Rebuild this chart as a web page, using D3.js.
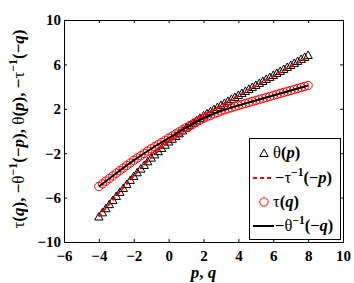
<!DOCTYPE html>
<html>
<head>
<meta charset="utf-8">
<script src="https://cdn.jsdelivr.net/npm/d3@7"></script>
<style>
  body { margin: 0; background: #fff; }
  text { font-family: "Liberation Serif", "Times New Roman", serif; }
</style>
</head>
<body>
<div id="chart"></div>
<script>
// grid of p (and q) values used for the markers
var pq = [-4, -3.8, -3.6, -3.4, -3.2, -3, -2.8, -2.6, -2.4, -2.2, -2, -1.8, -1.6, -1.4, -1.2, -1,
  -0.8, -0.6, -0.4, -0.2, 0, 0.2, 0.4, 0.6, 0.8, 1, 1.2, 1.4, 1.6, 1.8, 2, 2.2, 2.4, 2.6, 2.8, 3,
  3.2, 3.4, 3.6, 3.8, 4, 4.2, 4.4, 4.6, 4.8, 5, 5.2, 5.4, 5.6, 5.8, 6, 6.2, 6.4, 6.6, 6.8, 7,
  7.2, 7.4, 7.6, 7.8, 8];

// theta(p), triangles
var thetaVals = [-7.70, -7.33, -6.96, -6.59, -6.22, -5.85, -5.49, -5.13, -4.77, -4.41, -4.05,
  -3.72, -3.39, -3.06, -2.73, -2.40, -2.11, -1.82, -1.53, -1.24, -0.95, -0.70, -0.45, -0.20,
  0.05, 0.30, 0.52, 0.74, 0.96, 1.18, 1.40, 1.59, 1.78, 1.97, 2.16, 2.35, 2.53, 2.71, 2.89,
  3.07, 3.25, 3.43, 3.61, 3.79, 3.97, 4.15, 4.33, 4.51, 4.69, 4.87, 5.05, 5.23, 5.41, 5.59,
  5.77, 5.95, 6.13, 6.31, 6.49, 6.67, 6.85];

// tau(q), circles
var tauVals = [-5.00, -4.76, -4.52, -4.28, -4.04, -3.80, -3.57, -3.34, -3.11, -2.88, -2.65,
  -2.44, -2.23, -2.02, -1.81, -1.60, -1.41, -1.22, -1.03, -0.84, -0.65, -0.46, -0.27, -0.08,
  0.11, 0.30, 0.47, 0.64, 0.81, 0.98, 1.15, 1.28, 1.41, 1.54, 1.67, 1.80, 1.90, 2.00, 2.10,
  2.20, 2.30, 2.39, 2.48, 2.57, 2.66, 2.75, 2.84, 2.93, 3.02, 3.11, 3.20, 3.29, 3.38, 3.47,
  3.56, 3.65, 3.74, 3.83, 3.92, 4.01, 4.10];

// the two inverse curves
var lineX = [-4, -3, -2, -1, 0, 1, 2, 3, 4, 5, 6, 7, 8];
var dashVals = [-7.7, -5.85, -4.05, -2.4, -0.95, 0.3, 1.38, 2.3, 3.18, 4.05, 4.92, 5.78, 6.65];
var solidVals = [-5.0, -3.8, -2.65, -1.6, -0.65, 0.3, 1.15, 1.8, 2.3, 2.75, 3.2, 3.65, 4.1];

var xTicks = [-6, -4, -2, 0, 2, 4, 6, 8, 10];
var yTicks = [-10, -6, -2, 2, 6, 10];

var svgWidth = 354;
var svgHeight = 283;
var margin = { top: 20, right: 11, bottom: 41, left: 64 };
var width = svgWidth - margin.left - margin.right;
var height = svgHeight - margin.top - margin.bottom;

var svg = d3.select("#chart").append("svg")
  .attr("width", svgWidth)
  .attr("height", svgHeight);

var chartGroup = svg.append("g")
  .attr("transform", `translate(${margin.left}, ${margin.top})`);

var x = d3.scaleLinear().domain([-6, 10]).range([0, width]);
var y = d3.scaleLinear().domain([-10, 10]).range([height, 0]);

// appends tspans: g = greek (normal), b = bold, i = bold italic, s = superscript
function richText(sel, parts, size) {
  var raised = false;
  parts.forEach(function (p) {
    var t = sel.append("tspan").text(p[0]);
    if (p[1] === "g") t.attr("font-weight", "normal").attr("font-style", "normal");
    if (p[1] === "b") t.attr("font-weight", "bold").attr("font-style", "normal");
    if (p[1] === "i") t.attr("font-weight", "bold").attr("font-style", "italic");
    if (p[1] === "s") {
      t.attr("font-weight", "bold").attr("font-size", size * 0.7).attr("dy", -size * 0.42);
      raised = true;
    } else if (raised) {
      t.attr("dy", size * 0.42);
      raised = false;
    }
  });
}

// axes, ticks inside on all four sides
function styleAxis(g) {
  g.selectAll("text")
    .attr("font-size", 15)
    .attr("font-weight", "bold")
    .attr("font-family", "Liberation Serif, serif");
  g.select(".domain").attr("stroke", "#000");
}

var fmt = function (d) { return d < 0 ? "\u2212" + Math.abs(d) : d; };

chartGroup.append("g")
  .attr("transform", `translate(0, ${height})`)
  .call(d3.axisBottom(x).tickValues(xTicks).tickFormat(fmt).tickSize(-3).tickSizeOuter(0).tickPadding(8))
  .call(styleAxis);

chartGroup.append("g")
  .call(d3.axisLeft(y).tickValues(yTicks).tickFormat(fmt).tickSize(-3).tickSizeOuter(0).tickPadding(3))
  .call(styleAxis);

chartGroup.append("g")
  .call(d3.axisTop(x).tickValues(xTicks).tickFormat("").tickSize(-3).tickSizeOuter(0))
  .call(styleAxis);

chartGroup.append("g")
  .attr("transform", `translate(${width}, 0)`)
  .call(d3.axisRight(y).tickValues(yTicks).tickFormat("").tickSize(-3).tickSizeOuter(0))
  .call(styleAxis);

// triangle marker centred on its bounding box, like matlab '^'
var triPath = "M0,-4L4.2,3.5L-4.2,3.5Z";

var thetaData = pq.map(function (p, i) { return { x: p, y: thetaVals[i] }; });
var tauData = pq.map(function (q, i) { return { x: q, y: tauVals[i] }; });

chartGroup.append("g").selectAll("path")
  .data(thetaData)
  .enter()
  .append("path")
  .attr("d", triPath)
  .attr("transform", d => `translate(${x(d.x)}, ${y(d.y)})`)
  .attr("fill", "none")
  .attr("stroke", "#000")
  .attr("stroke-width", 1);

var line = d3.line()
  .x(d => x(d[0]))
  .y(d => y(d[1]))
  .curve(d3.curveCatmullRom);

chartGroup.append("path")
  .datum(lineX.map((v, i) => [v, dashVals[i]]))
  .attr("d", line)
  .attr("fill", "none")
  .attr("stroke", "#ff0000")
  .attr("stroke-width", 2)
  .attr("stroke-dasharray", "4,3");

chartGroup.append("g").selectAll("circle")
  .data(tauData)
  .enter()
  .append("circle")
  .attr("cx", d => x(d.x))
  .attr("cy", d => y(d.y))
  .attr("r", 4.2)
  .attr("fill", "none")
  .attr("stroke", "#ff0000")
  .attr("stroke-width", 1);

chartGroup.append("path")
  .datum(lineX.map((v, i) => [v, solidVals[i]]))
  .attr("d", line)
  .attr("fill", "none")
  .attr("stroke", "#000")
  .attr("stroke-width", 2);

// axis labels
var xLabel = svg.append("text")
  .attr("x", margin.left + width / 2)
  .attr("y", 278)
  .attr("text-anchor", "middle")
  .attr("font-size", 17);
richText(xLabel, [["p", "i"], [", ", "b"], ["q", "i"]], 17);

var yLabel = svg.append("text")
  .attr("transform", "translate(24, 129) rotate(-90)")
  .attr("text-anchor", "middle")
  .attr("font-size", 17);
richText(yLabel, [["\u03c4", "g"], ["(", "b"], ["q", "i"], ["), \u2212", "b"],
  ["\u03b8", "g"], ["\u22121", "s"], ["(\u2212", "b"], ["p", "i"], ["), ", "b"], ["\u03b8", "g"],
  ["(", "b"], ["p", "i"], ["), \u2212", "b"], ["\u03c4", "g"], ["\u22121", "s"], ["(\u2212", "b"],
  ["q", "i"], [")", "b"]], 17);

// legend
var legend = svg.append("g");
legend.append("rect")
  .attr("x", 249.5).attr("y", 138.5)
  .attr("width", 91).attr("height", 101)
  .attr("fill", "#fff").attr("stroke", "#000").attr("stroke-width", 1);

var legendRows = [
  { y: 153, kind: "tri", parts: [["\u03b8", "g"], ["(", "b"], ["p", "i"], [")", "b"]] },
  { y: 178, kind: "dash", parts: [["\u2212", "b"], ["\u03c4", "g"], ["\u22121", "s"], ["(\u2212", "b"], ["p", "i"], [")", "b"]] },
  { y: 202, kind: "circ", parts: [["\u03c4", "g"], ["(", "b"], ["q", "i"], [")", "b"]] },
  { y: 226, kind: "solid", parts: [["\u2212", "b"], ["\u03b8", "g"], ["\u22121", "s"], ["(\u2212", "b"], ["q", "i"], [")", "b"]] }
];

legendRows.forEach(function (r) {
  if (r.kind === "tri") {
    legend.append("path").attr("d", triPath)
      .attr("transform", `translate(264, ${r.y})`)
      .attr("fill", "none").attr("stroke", "#000");
  } else if (r.kind === "circ") {
    legend.append("circle").attr("cx", 264).attr("cy", r.y).attr("r", 4.2)
      .attr("fill", "none").attr("stroke", "#ff0000");
  } else {
    legend.append("line")
      .attr("x1", 253).attr("x2", 274).attr("y1", r.y).attr("y2", r.y)
      .attr("stroke", r.kind === "dash" ? "#ff0000" : "#000")
      .attr("stroke-width", 2)
      .attr("stroke-dasharray", r.kind === "dash" ? "4,3" : null);
  }
  var t = legend.append("text")
    .attr("x", r.kind === "tri" || r.kind === "circ" ? 273 : 275)
    .attr("y", r.y + 5)
    .attr("font-size", 16.5);
  richText(t, r.parts, 16.5);
});
</script>
</body>
</html>
